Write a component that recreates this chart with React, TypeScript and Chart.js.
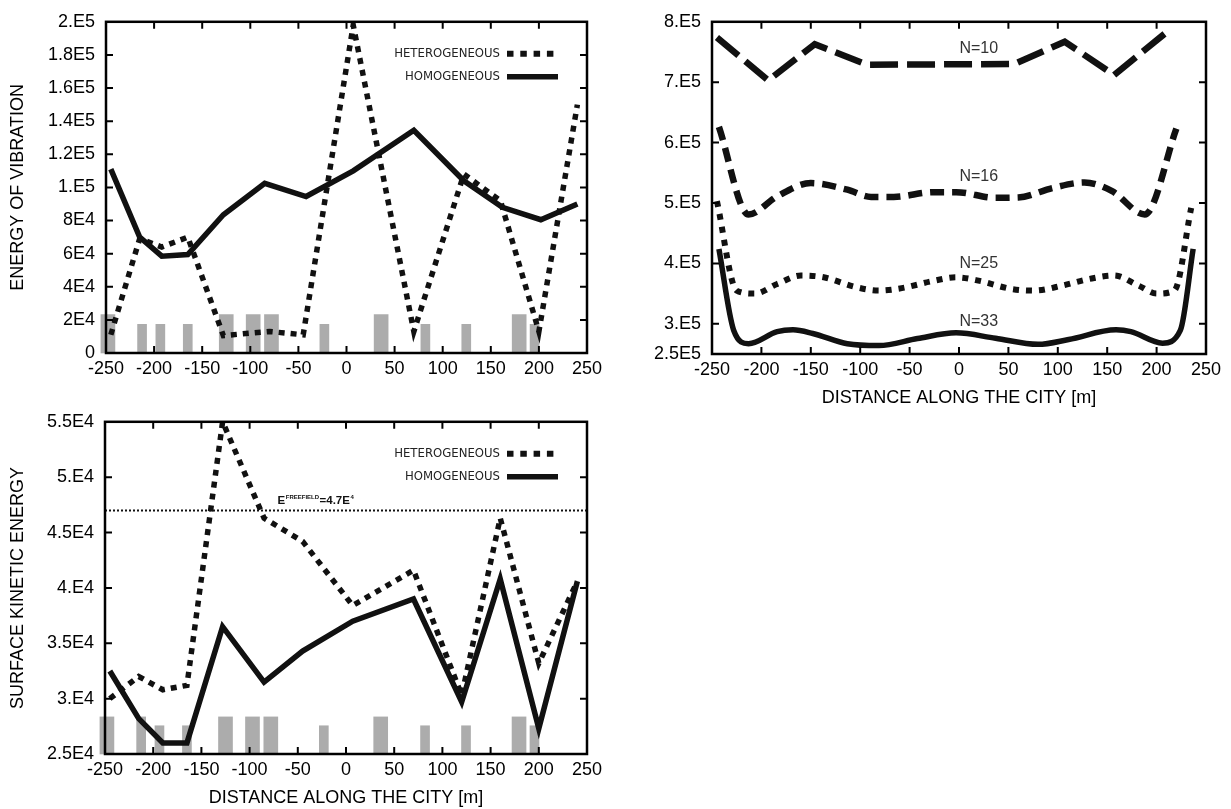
import React, { useEffect, useRef } from 'react';
import { Chart, registerables } from 'chart.js';

Chart.register(...registerables);

const FONT = '"Liberation Sans", Arial, Helvetica, sans-serif';
const NARROW = '"Liberation Sans Narrow", "DejaVu Sans Condensed", "Liberation Sans", sans-serif';

// ---------- shared ----------
const xTickValues = [-250, -200, -150, -100, -50, 0, 50, 100, 150, 200, 250];
const seriesNames = ['HETEROGENEOUS', 'HOMOGENEOUS'];
const xTitle = 'DISTANCE ALONG THE CITY [m]';

// buildings (gray bars)
const wideBuildingX = [-248, -125, -97, -78, 36, 179.5];
const narrowBuildingX = [-212.5, -193.5, -165, -23, 82, 124.5, 195.5];

// ---------- top-left: energy of vibration ----------
const vibTitle = 'ENERGY OF VIBRATION';
const vibYTicks = [0, 20000, 40000, 60000, 80000, 100000, 120000, 140000, 160000, 180000, 200000];
const vibYLabels = ['0', '2E4', '4E4', '6E4', '8E4', '1.E5', '1.2E5', '1.4E5', '1.6E5', '1.8E5', '2.E5'];
const vibHeteroX = [-245, -215, -192, -165, -128, -100, -80, -45, 7, 70, 122, 160, 200, 240];
const vibHeteroY = [11000, 69000, 64000, 70000, 10500, 12000, 13000, 11000, 198000, 13000, 108000, 92000, 13000, 150000];
const vibHomoX = [-245, -215, -192, -165, -128, -85, -42, 7, 70, 122, 162, 202, 240];
const vibHomoY = [111000, 70000, 58500, 59500, 83500, 102500, 94500, 110000, 134500, 104000, 88000, 80500, 90000];
const vibWideTop = [23200, 23200, 23200, 23200, 23200, 23200];
const vibNarrowTop = [17300, 17300, 17300, 17300, 17300, 17300, 17300];

// ---------- top-right: N curves ----------
const nYTicks = [250000, 300000, 400000, 500000, 600000, 700000, 800000];
const nYLabels = ['2.5E5', '3.E5', '4.E5', '5.E5', '6.E5', '7.E5', '8.E5'];
const n10X = [-245, -193, -146, -93, 56, 107, 157, 208];
const n10Y = [774000, 703000, 763000, 729000, 730000, 767000, 712000, 780000];
const n16X = [-243, -213, -184, -150, -113, -89, -66, -26, -3, 37, 60, 95, 127, 155, 188, 220];
const n16Y = [626000, 481000, 511000, 533000, 522000, 510000, 510000, 518000, 518000, 508500, 509000, 525000, 534000, 519500, 481000, 623000];
const n25X = [-245, -225, -207, -184, -160, -137, -105, -81, -58, -26, -3, 21, 52, 76, 104, 131, 157, 182, 200, 218, 235];
const n25Y = [503000, 355000, 350000, 366000, 380000, 377000, 361000, 355000, 359000, 371000, 377000, 371000, 358000, 355000, 363000, 374000, 380000, 363000, 350000, 355000, 492000];
const n33X = [-243, -228, -213, -184, -168, -148, -113, -81, -42, -3, 37, 80, 111, 159, 174, 206, 224, 237];
const n33Y = [424000, 289000, 267000, 287000, 290000, 284000, 267000, 264000, 275600, 285000, 276000, 266000, 274000, 290000, 287000, 268000, 289000, 424000];
const nLabelText = ['N=10', 'N=16', 'N=25', 'N=33'];
const nLabelX = [20, 20, 20, 20];
const nLabelY = [755000, 544000, 399000, 303000];

// ---------- bottom-left: surface kinetic energy ----------
const skeTitle = 'SURFACE KINETIC ENERGY';
const skeYTicks = [25000, 30000, 35000, 40000, 45000, 50000, 55000];
const skeYLabels = ['2.5E4', '3.E4', '3.5E4', '4.E4', '4.5E4', '5.E4', '5.5E4'];
const skeX = [-245, -215, -190, -165, -128, -85, -45, 7, 70, 120, 160, 200, 240];
const skeHeteroY = [30000, 32000, 30800, 31200, 55000, 46300, 44200, 38400, 41600, 30300, 46300, 33200, 40600];
const skeHomoY = [32500, 28200, 26000, 26000, 36500, 31500, 34300, 37000, 39000, 29700, 40800, 27300, 40600];
const skeWideTop = [28350, 28350, 28350, 28350, 28350, 28350];
const skeNarrowTop = [28350, 27550, 27550, 27550, 27550, 27550, 27550];
const freefieldValue = 47000;
const freefieldLabelX = -71;

const pts = (xs: number[], ys: number[]) => xs.map((x, i) => ({ x, y: ys[i] }));

const framePlugin = {
  id: 'frame',
  afterDraw(chart: any) {
    const { ctx, chartArea } = chart;
    const { left, right, top, bottom } = chartArea;
    const xs = chart.scales.x;
    const ys = chart.scales.y;
    ctx.save();
    ctx.strokeStyle = '#000';
    ctx.lineWidth = 2;
    ctx.setLineDash([]);
    ctx.beginPath();
    xs.ticks.forEach((t: any) => {
      const px = xs.getPixelForValue(t.value);
      if (px - left < 2 || right - px < 2) return;
      ctx.moveTo(px, bottom);
      ctx.lineTo(px, bottom - 7);
      ctx.moveTo(px, top);
      ctx.lineTo(px, top + 7);
    });
    ys.ticks.forEach((t: any) => {
      const py = ys.getPixelForValue(t.value);
      if (py - top < 2 || bottom - py < 2) return;
      ctx.moveTo(left, py);
      ctx.lineTo(left + 7, py);
      ctx.moveTo(right, py);
      ctx.lineTo(right - 7, py);
    });
    ctx.stroke();
    ctx.lineWidth = 2.5;
    ctx.strokeRect(left, top, right - left, bottom - top);
    ctx.restore();
  },
};

const legendPlugin = {
  id: 'insideLegend',
  afterDatasetsDraw(chart: any) {
    const { ctx, chartArea } = chart;
    const { right, top } = chartArea;
    const tx = right - 87;
    const sx = right - 80;
    const r1 = top + 32;
    const r2 = top + 55;
    ctx.save();
    ctx.font = `13px ${NARROW}`;
    ctx.fillStyle = '#222';
    ctx.textAlign = 'right';
    ctx.textBaseline = 'middle';
    ctx.fillText(seriesNames[0], tx, r1);
    ctx.fillText(seriesNames[1], tx, r2);
    ctx.strokeStyle = '#111';
    ctx.lineCap = 'butt';
    ctx.lineWidth = 6;
    ctx.setLineDash([6.5, 6.8]);
    ctx.beginPath();
    ctx.moveTo(sx, r1);
    ctx.lineTo(sx + 47, r1);
    ctx.stroke();
    ctx.setLineDash([]);
    ctx.lineWidth = 5.5;
    ctx.beginPath();
    ctx.moveTo(sx, r2);
    ctx.lineTo(sx + 51, r2);
    ctx.stroke();
    ctx.restore();
  },
};

const nLabelPlugin = {
  id: 'nLabels',
  afterDatasetsDraw(chart: any) {
    const { ctx } = chart;
    const xs = chart.scales.x;
    const ys = chart.scales.y;
    ctx.save();
    ctx.font = `16px ${FONT}`;
    ctx.fillStyle = '#333';
    ctx.textAlign = 'center';
    ctx.textBaseline = 'middle';
    nLabelText.forEach((t, i) => {
      ctx.fillText(t, xs.getPixelForValue(nLabelX[i]), ys.getPixelForValue(nLabelY[i]));
    });
    ctx.restore();
  },
};

const freefieldPlugin = {
  id: 'freefieldLabel',
  afterDatasetsDraw(chart: any) {
    const { ctx } = chart;
    const xs = chart.scales.x;
    const ys = chart.scales.y;
    let x = xs.getPixelForValue(freefieldLabelX);
    const y = ys.getPixelForValue(freefieldValue) - 6;
    ctx.save();
    ctx.fillStyle = '#111';
    ctx.textAlign = 'left';
    ctx.textBaseline = 'alphabetic';
    const parts: [string, boolean][] = [['E', false], ['FREEFIELD', true], ['=4.7E', false], ['4', true]];
    parts.forEach(([s, sup]) => {
      ctx.font = sup ? `bold 6px ${FONT}` : `bold 11.5px ${FONT}`;
      ctx.fillText(s, x, sup ? y - 5 : y);
      x += ctx.measureText(s).width + (sup ? 0.5 : 0.5);
    });
    ctx.restore();
  },
};

function xScale(showTitle: boolean, height: number) {
  return {
    type: 'linear',
    min: -250,
    max: 250,
    offset: false,
    afterBuildTicks: (s: any) => {
      s.ticks = xTickValues.map((v) => ({ value: v }));
    },
    afterFit: (s: any) => {
      s.height = height;
    },
    grid: { display: false, drawTicks: false },
    border: { display: false },
    ticks: {
      autoSkip: false,
      maxRotation: 0,
      padding: 5,
      color: '#000',
      font: { family: FONT, size: 18 },
      callback: (v: any) => String(v),
    },
    title: {
      display: showTitle,
      text: xTitle,
      color: '#000',
      font: { family: FONT, size: 18 },
      padding: { top: 0, bottom: 0 },
    },
  };
}

function yScale(min: number, max: number, ticks: number[], labels: string[], title: string, width: number) {
  return {
    type: 'linear',
    min,
    max,
    afterBuildTicks: (s: any) => {
      s.ticks = ticks.map((v) => ({ value: v }));
    },
    afterFit: (s: any) => {
      s.width = width;
    },
    grid: { display: false, drawTicks: false },
    border: { display: false },
    ticks: {
      autoSkip: false,
      padding: 11,
      color: '#000',
      font: { family: FONT, size: 18 },
      callback: (v: any) => {
        const i = ticks.indexOf(Number(v));
        return i >= 0 ? labels[i] : '';
      },
    },
    title: {
      display: !!title,
      text: title,
      color: '#000',
      font: { family: FONT, size: 18 },
      padding: { top: 7, bottom: 0 },
    },
  };
}

function barSet(xs: number[], base: number, tops: number[], thick: number) {
  return {
    type: 'bar',
    data: xs.map((x, i) => ({ x, y: [base, tops[i]] })),
    backgroundColor: '#acacac',
    borderWidth: 0,
    grouped: false,
    barPercentage: 1,
    categoryPercentage: 1,
    maxBarThickness: thick,
    clip: false,
    order: 10,
  };
}

function lineSet(xs: number[], ys: number[], width: number, dash: number[], smooth = false) {
  return {
    type: 'line',
    data: pts(xs, ys),
    borderColor: '#111',
    borderWidth: width,
    borderDash: dash,
    borderCapStyle: 'butt',
    borderJoinStyle: 'miter',
    pointRadius: 0,
    pointHoverRadius: 0,
    fill: false,
    tension: smooth ? 0.4 : 0,
    cubicInterpolationMode: smooth ? 'monotone' : 'default',
    order: 1,
  };
}

const baseOpts = (padding: any) => ({
  responsive: false,
  animation: false,
  events: [],
  layout: { padding },
  plugins: { legend: { display: false }, tooltip: { enabled: false } },
});

function vibConfig(): any {
  return {
    type: 'line',
    data: {
      datasets: [
        lineSet(vibHeteroX, vibHeteroY, 5.5, [6, 6]),
        lineSet(vibHomoX, vibHomoY, 5.5, []),
        barSet(wideBuildingX, 0, vibWideTop, 14),
        barSet(narrowBuildingX, 0, vibNarrowTop, 9),
      ],
    },
    options: {
      ...baseOpts({ left: 0, top: 17, right: 33, bottom: 0 }),
      scales: {
        x: xScale(false, 47),
        y: yScale(0, 200000, vibYTicks, vibYLabels, vibTitle, 106),
      },
    },
    plugins: [framePlugin, legendPlugin],
  };
}

function nConfig(): any {
  return {
    type: 'line',
    data: {
      datasets: [
        lineSet(n10X, n10Y, 6.5, [28, 9]),
        lineSet(n16X, n16Y, 6.5, [14, 8], true),
        lineSet(n25X, n25Y, 6, [6, 7], true),
        lineSet(n33X, n33Y, 5.5, [], true),
      ],
    },
    options: {
      ...baseOpts({ left: 0, top: 18, right: 25, bottom: 0 }),
      scales: {
        x: xScale(true, 55),
        y: yScale(250000, 800000, nYTicks, nYLabels, '', 92),
      },
    },
    plugins: [framePlugin, nLabelPlugin],
  };
}

function skeConfig(): any {
  return {
    type: 'line',
    data: {
      datasets: [
        lineSet(skeX, skeHeteroY, 5.5, [6, 6]),
        lineSet(skeX, skeHomoY, 5.5, []),
        {
          type: 'line',
          data: [
            { x: -250, y: freefieldValue },
            { x: 250, y: freefieldValue },
          ],
          borderColor: '#111',
          borderWidth: 2,
          borderDash: [2, 2],
          pointRadius: 0,
          fill: false,
          order: 2,
        },
        barSet(wideBuildingX, 25000, skeWideTop, 14),
        barSet(narrowBuildingX, 25000, skeNarrowTop, 9),
      ],
    },
    options: {
      ...baseOpts({ left: 0, top: 17, right: 33, bottom: 0 }),
      scales: {
        x: xScale(true, 55),
        y: yScale(25000, 55000, skeYTicks, skeYLabels, skeTitle, 105),
      },
    },
    plugins: [framePlugin, legendPlugin, freefieldPlugin],
  };
}

function Panel(props: { make: () => any; left: number; top: number; width: number; height: number }) {
  const ref = useRef<HTMLCanvasElement>(null);
  useEffect(() => {
    const chart = new Chart(ref.current as HTMLCanvasElement, props.make());
    return () => chart.destroy();
  }, []);
  return (
    <canvas
      ref={ref}
      width={props.width}
      height={props.height}
      style={{ position: 'absolute', left: props.left, top: props.top, width: props.width, height: props.height, display: 'block' }}
    />
  );
}

export default function App() {
  return (
    <div style={{ position: 'absolute', left: 0, top: 0, width: 1231, height: 809, background: '#fff', overflow: 'hidden' }}>
      <Panel make={vibConfig} left={0} top={0} width={620} height={400} />
      <Panel make={nConfig} left={620} top={0} width={611} height={409} />
      <Panel make={skeConfig} left={0} top={400} width={620} height={409} />
    </div>
  );
}
